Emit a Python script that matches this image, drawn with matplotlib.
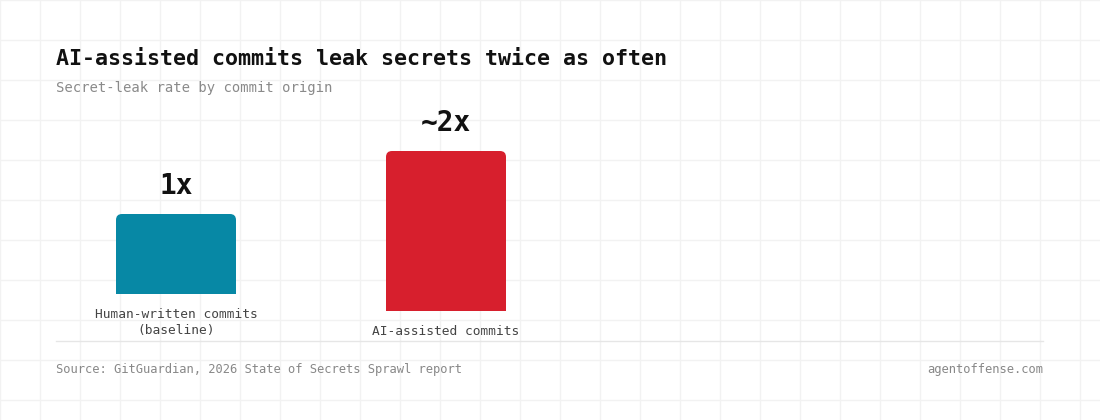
import matplotlib
matplotlib.use("Agg")
import matplotlib.pyplot as plt
from matplotlib.patches import FancyBboxPatch

# data
categories = ["Human-written commits\n(baseline)", "AI-assisted commits"]
values = [1, 2]
value_labels = ["1x", "~2x"]
bar_colors = ["#0788a5", "#d71f2d"]

title = "AI-assisted commits leak secrets twice as often"
subtitle = "Secret-leak rate by commit origin"
source = "Source: GitGuardian, 2026 State of Secrets Sprawl report"
site = "agentoffense.com"

W, H = 1100, 420
plt.rcParams['font.family'] = ['DejaVu Sans Mono', 'DejaVu Sans']

fig = plt.figure(figsize=(W / 100, H / 100), dpi=100)
fig.patch.set_facecolor("white")

# background grid, pixel coords
bg = fig.add_axes([0, 0, 1, 1])
bg.set_xlim(0, W)
bg.set_ylim(H, 0)
bg.set_xticks(range(0, W + 1, 40))
bg.set_yticks(range(0, H + 1, 40))
bg.grid(True, color="#f2f2f2", linewidth=1)
bg.tick_params(length=0, labelbottom=False, labelleft=False)
for s in bg.spines.values():
    s.set_visible(False)
bg.set_axisbelow(True)

bg.text(56, 59, title, fontsize=15.6, fontweight="bold", color="#111111", va="center", ha="left")
bg.text(56, 88, subtitle, fontsize=10, color="#8a8a8a", va="center", ha="left")
bg.plot([56, 1043], [341, 341], color="#e6e6e6", linewidth=1)
bg.text(56, 370, source, fontsize=8.7, color="#888888", va="center", ha="left")
bg.text(1043, 370, site, fontsize=8.7, color="#888888", va="center", ha="right")

# one column per category, bottom aligned with label block
px_per_unit = 80
bar_w = 120
lefts = [116, 386]
for i, (cat, v, lab, col) in enumerate(zip(categories, values, value_labels, bar_colors)):
    nlines = cat.count("\n") + 1
    bottom_px = 311 - 17 * (nlines - 1)
    ax_h = 200
    ax = fig.add_axes([lefts[i] / W, (H - bottom_px) / H, bar_w / W, ax_h / H])
    ax.set_xlim(-0.5, 0.5)
    ax.set_ylim(0, ax_h / px_per_unit)
    ax.axis("off")
    bars = ax.bar([0], [v], width=1.0, color=col, linewidth=0)
    # round top corners (6 px radius)
    rx = 6 / bar_w
    clip = FancyBboxPatch((-0.5, -1), 1.0, v + 1,
                          boxstyle=f"round,pad=0,rounding_size={rx}",
                          mutation_aspect=(6 / px_per_unit) / rx,
                          transform=ax.transData)
    for b in bars:
        b.set_clip_path(clip)
    ax.annotate(lab, (0, v), xytext=(0, 28), textcoords="offset pixels",
                ha="center", va="center", fontsize=20, fontweight="bold",
                color="#111111", annotation_clip=False)
    ax.annotate(cat, (0, 0), xytext=(0, -14), textcoords="offset pixels",
                ha="center", va="top", fontsize=9.3, color="#444444",
                linespacing=1.3, annotation_clip=False)

fig.savefig("out.png", dpi=100, facecolor="white")
